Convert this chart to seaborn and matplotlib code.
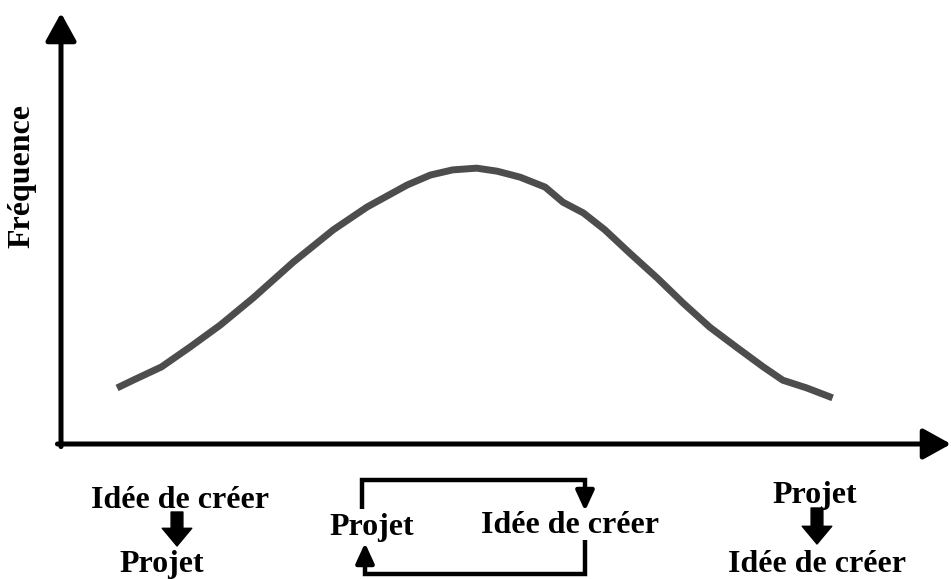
import numpy as np
import pandas as pd
import matplotlib
matplotlib.use("Agg")
import matplotlib.pyplot as plt
import seaborn as sns
from matplotlib.lines import Line2D

# ---- data ----
phase = [6.3, 8.1, 11.3, 14.5, 17.9, 21.6, 26.1, 30.6, 34.4, 38.9, 41.5, 44.0, 46.7,
         49.0, 51.6, 54.4, 56.4, 58.7, 61.1, 63.9, 67.0, 69.9, 72.9, 76.0, 78.9,
         81.1, 83.8, 86.7]
frequence = [13.0, 14.8, 17.9, 22.5, 27.6, 33.9, 42.2, 49.7, 55.0, 60.1, 62.4, 63.6, 64.0,
             63.3, 61.9, 59.6, 56.1, 53.6, 49.7, 44.3, 38.5, 32.7, 27.1, 22.3, 17.9,
             14.8, 13.0, 10.7]
y_label = "Fréquence"
label_left = ["Idée de créer", "Projet"]
label_mid = ["Projet", "Idée de créer"]
label_right = ["Projet", "Idée de créer"]

sns.set_style("white")
plt.rcParams['font.family'] = ['Liberation Serif', 'DejaVu Serif']

W, H = 951, 579
fig = plt.figure(figsize=(W / 100, H / 100), dpi=100)
ax = fig.add_axes([61 / W, (H - 444) / H, (W - 61) / W, (444 - 13) / H])
df = pd.DataFrame({"x": phase, "y": frequence})
sns.lineplot(data=df, x="x", y="y", ax=ax, color="#4d4d4d", linewidth=5.0,
             solid_capstyle="butt", solid_joinstyle="round")
ax.set_xlim(0, 100)
ax.set_ylim(0, 100)
for s in ax.spines.values():
    s.set_visible(False)
ax.set_xticks([])
ax.set_yticks([])
ax.set_xlabel("")
ax.set_ylabel("")
ax.patch.set_alpha(0)

# axis arrows
axis_style = "-|>,head_length=17,head_width=9.4"
ax.annotate("", xy=(0, 1), xytext=(0, -0.006), xycoords="axes fraction",
            arrowprops=dict(arrowstyle=axis_style, color="black", lw=3.6,
                            shrinkA=0, shrinkB=0, mutation_scale=1),
            annotation_clip=False)
ax.annotate("", xy=(1, 0), xytext=(-0.004, 0), xycoords="axes fraction",
            arrowprops=dict(arrowstyle=axis_style, color="black", lw=3.6,
                            shrinkA=0, shrinkB=0, mutation_scale=1),
            annotation_clip=False)


def P(x, y):
    return (x / W, (H - y) / H)


font = dict(fontsize=23, fontweight="bold", color="black")
fig.text(*P(22, 176), y_label, rotation=90, ha="center", va="center", **font)

# left group
fig.text(*P(180, 508), label_left[0], ha="center", va="baseline", **font)
fig.text(*P(162, 572), label_left[1], ha="center", va="baseline", **font)
# right group
fig.text(*P(815, 503), label_right[0], ha="center", va="baseline", **font)
fig.text(*P(817, 572), label_right[1], ha="center", va="baseline", **font)
# middle group
fig.text(*P(372, 535), label_mid[0], ha="center", va="baseline", **font)
fig.text(*P(570, 533), label_mid[1], ha="center", va="baseline", **font)

block = "simple,head_length=0.75,head_width=1.25,tail_width=0.5"
for x, y0, y1 in [(177, 512, 546), (817, 508, 544)]:
    fig.add_artist(matplotlib.patches.FancyArrowPatch(
        P(x, y0), P(x, y1), transform=fig.transFigure, arrowstyle=block,
        mutation_scale=17, color="black", shrinkA=0, shrinkB=0))

# middle loop
def poly(pts):
    xs, ys = zip(*[P(*p) for p in pts])
    fig.add_artist(Line2D(xs, ys, transform=fig.transFigure, color="black",
                          lw=3.2, solid_joinstyle="miter", solid_capstyle="butt"))

poly([(362, 509), (362, 480), (585, 480), (585, 497)])
poly([(585, 540), (585, 574), (365, 574), (365, 556)])
small = "-|>,head_length=12,head_width=5.5"
for (x0, y0), (x1, y1) in [((585, 492), (585, 511)), ((365, 562), (365, 543))]:
    fig.add_artist(matplotlib.patches.FancyArrowPatch(
        P(x0, y0), P(x1, y1), transform=fig.transFigure, arrowstyle=small,
        mutation_scale=1, color="black", lw=3.2, shrinkA=0, shrinkB=0))

fig.savefig("out.png", dpi=100)
